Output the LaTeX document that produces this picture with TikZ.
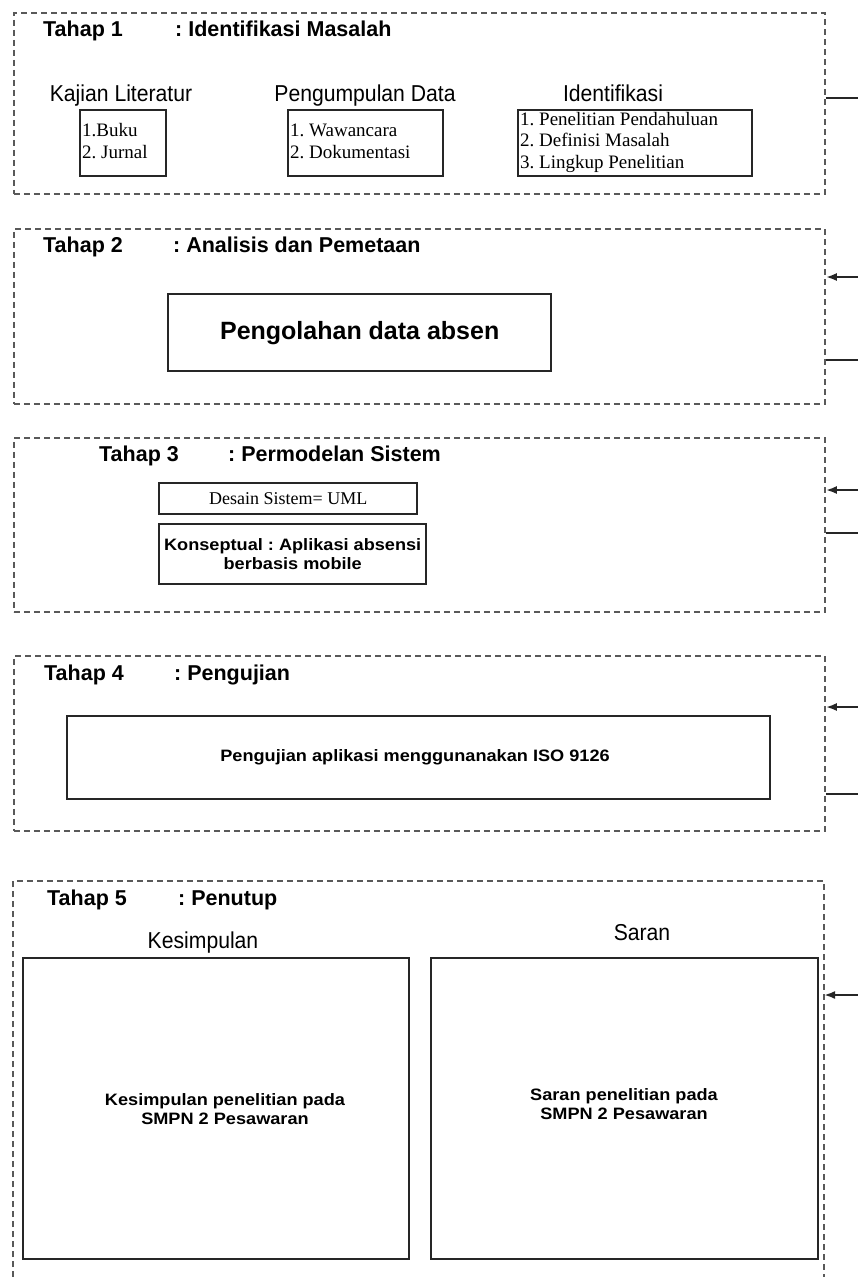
\documentclass[tikz,border=0pt]{standalone}
\usepackage{fontspec}
\setmainfont{Liberation Sans}
\newfontfamily\titlefont{Liberation Sans Bold}
\newfontfamily\bodyfont[FakeStretch=1.1]{Liberation Sans Bold}
\newfontfamily\labelfont[FakeStretch=0.92]{Liberation Sans}
\newfontfamily\serfont{Liberation Serif}
\usetikzlibrary{arrows.meta}
\frenchspacing
\tikzset{
  dashbox/.style={draw=black!65, line width=1.8pt, dash pattern=on 6pt off 4pt},
  solidbox/.style={draw=black!85, line width=2.4pt, fill=white, inner sep=0pt, anchor=north west},
  conn/.style={line width=2.2pt, draw=black!85},
  arr/.style={conn, -{Latex[length=11pt,width=8pt]}},
  ttl/.style={anchor=base west, inner sep=0pt, font=\titlefont\fontsize{21.5}{24}\selectfont},
  lbl/.style={anchor=base, inner sep=0pt, font=\labelfont\fontsize{23}{26}\selectfont},
  lst/.style={anchor=west, inner sep=0pt, align=left, font=\serfont\fontsize{19}{21.5}\selectfont},
  body/.style={inner sep=0pt, align=center, font=\bodyfont\fontsize{16.5}{18.5}\selectfont}
}
\begin{document}
\begin{tikzpicture}[x=1pt,y=-1pt]
\useasboundingbox (0,0) rectangle (858,1277);
\fill[white] (0,0) rectangle (858,1277);

% ---------- Tahap 1 ----------
\node[dashbox, anchor=north west, minimum width=811pt, minimum height=181pt, inner sep=0pt] (f1) at (13,12) {};
\node[ttl] (t1a) at (43,36) {Tahap 1};
\node[ttl] (t1b) at (175,36) {: Identifikasi Masalah};
\node[lbl] (l1) at (121,101) {Kajian Literatur};
\node[lbl] (l2) at (365,101) {Pengumpulan Data};
\node[lbl] (l3) at (613,101) {Identifikasi};
\node[solidbox, minimum width=86pt, minimum height=66pt] (b1) at (79,109) {};
\node[solidbox, minimum width=155pt, minimum height=66pt] (b2) at (287,109) {};
\node[solidbox, minimum width=234pt, minimum height=66pt] (b3) at (517,109) {};
\node[lst] (x1) at ([xshift=3pt,yshift=2pt]b1.west) {1.Buku\\2. Jurnal};
\node[lst] (x2) at ([xshift=3pt,yshift=2pt]b2.west) {1. Wawancara\\2. Dokumentasi};
\node[lst] (x3) at ([xshift=3pt,yshift=1pt]b3.west) {1. Penelitian Pendahuluan\\2. Definisi Masalah\\3. Lingkup Penelitian};
\coordinate (e1) at (858,98);
\draw[conn] (e1 -| f1.east) -- (e1);

% ---------- Tahap 2 ----------
\node[dashbox, anchor=north west, minimum width=811pt, minimum height=175pt, inner sep=0pt] (f2) at (13,228) {};
\node[ttl] (t2a) at (43,252) {Tahap 2};
\node[ttl] (t2b) at (173,252) {: Analisis dan Pemetaan};
\node[solidbox, minimum width=383pt, minimum height=77pt] (b4) at (167,293) {};
\node[inner sep=0pt, font=\titlefont\fontsize{25}{28}\selectfont] (x4) at (b4.center) {Pengolahan data absen};
\coordinate (e2a) at (858,277);
\coordinate (e2b) at (858,360);
\draw[arr] (e2a) -- (e2a -| f2.east);
\draw[conn] (e2b -| f2.east) -- (e2b);

% ---------- Tahap 3 ----------
\node[dashbox, anchor=north west, minimum width=811pt, minimum height=174pt, inner sep=0pt] (f3) at (13,437) {};
\node[ttl] (t3a) at (99,461) {Tahap 3};
\node[ttl] (t3b) at (228,461) {: Permodelan Sistem};
\node[solidbox, minimum width=258pt, minimum height=31pt] (b5) at (158,482) {};
\node[inner sep=0pt, font=\serfont\fontsize{18}{20}\selectfont] (x5) at (b5.center) {Desain Sistem= UML};
\node[solidbox, minimum width=267pt, minimum height=60pt] (b6) at (158,523) {};
\node[body] (x6) at (b6.center) {Konseptual : Aplikasi absensi\\berbasis mobile};
\coordinate (e3a) at (858,490);
\coordinate (e3b) at (858,533);
\draw[arr] (e3a) -- (e3a -| f3.east);
\draw[conn] (e3b -| f3.east) -- (e3b);

% ---------- Tahap 4 ----------
\node[dashbox, anchor=north west, minimum width=811pt, minimum height=175pt, inner sep=0pt] (f4) at (13,655) {};
\node[ttl] (t4a) at (44,680) {Tahap 4};
\node[ttl] (t4b) at (174,680) {: Pengujian};
\node[solidbox, minimum width=703pt, minimum height=83pt] (b7) at (66,715) {};
\node[body] (x7) at (415,757) {Pengujian aplikasi menggunanakan ISO 9126};
\coordinate (e4a) at (858,707);
\coordinate (e4b) at (858,794);
\draw[arr] (e4a) -- (e4a -| f4.east);
\draw[conn] (e4b -| f4.east) -- (e4b);

% ---------- Tahap 5 ----------
\coordinate (f5nw) at (13,881);
\coordinate (f5ne) at (824,881);
\draw[dashbox] (13,1277) -- (f5nw) -- (f5ne) -- (824,1277);
\node[ttl] (t5a) at (47,905) {Tahap 5};
\node[ttl] (t5b) at (178,905) {: Penutup};
\node[lbl] (l4) at (203,948) {Kesimpulan};
\node[lbl] (l5) at (642,940) {Saran};
\node[solidbox, minimum width=386pt, minimum height=301pt] (b8) at (22,957) {};
\node[solidbox, minimum width=387pt, minimum height=301pt] (b9) at (430,957) {};
\node[body] (x8) at (225,1109) {Kesimpulan penelitian pada\\SMPN 2 Pesawaran};
\node[body] (x9) at (624,1104) {Saran penelitian pada\\SMPN 2 Pesawaran};
\coordinate (e5) at (858,995);
\coordinate (f5e) at (824,995);
\draw[arr] (e5) -- (f5e);
\end{tikzpicture}
\end{document}
